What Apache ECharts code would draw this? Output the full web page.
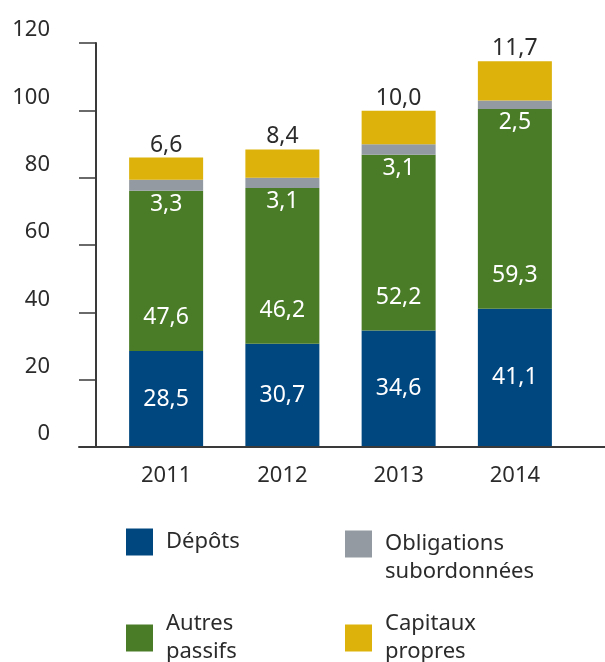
<!DOCTYPE html>
<html>
<head>
<meta charset="utf-8">
<script src="https://cdn.jsdelivr.net/npm/echarts@6/dist/echarts.min.js"></script>
<style>
html,body{margin:0;padding:0;background:#fff;}
#chart{width:605px;height:662px;}
</style>
</head>
<body>
<div id="chart"></div>
<script>
const years = ['2011', '2012', '2013', '2014'];
const depots = [28.5, 30.7, 34.6, 41.1];
const autresPassifs = [47.6, 46.2, 52.2, 59.3];
const obligations = [3.3, 3.1, 3.1, 2.5];
const capitaux = [6.6, 8.4, 10.0, 11.7];
const seriesNames = ['Dépôts', 'Autres\npassifs', 'Obligations\nsubordonnées', 'Capitaux\npropres'];
const yMin = 0, yMax = 120, yStep = 20;

const FONT = 'Noto Sans';
const TXT = '#2b2b2b';
const fmt = p => p.value.toFixed(1).replace('.', ',');

const chart = echarts.init(document.getElementById('chart'));
const legendBase = {
  icon: 'rect', itemWidth: 27, itemHeight: 27, selectedMode: false,
  textStyle: { fontFamily: FONT, fontSize: 22, color: TXT, lineHeight: 28 }
};
function legend(name, left, top, pad, formatter) {
  const l = Object.assign({}, legendBase, {
    data: [name], left: left, top: top,
    textStyle: Object.assign({}, legendBase.textStyle, { padding: pad })
  });
  if (formatter) l.formatter = formatter;
  return l;
}
chart.setOption({
  animation: false,
  textStyle: { fontFamily: FONT },
  grid: [
    { left: 108, right: 32, top: 43, bottom: 215 },
    { left: 79, right: 0, top: 43, bottom: 215 }
  ],
  legend: [
    legend(seriesNames[0], 121, 523, [0, 0, 0, 8]),
    legend(seriesNames[2], 340, 497, [0, 0, 0, 8], n => '\n' + n),
    legend(seriesNames[1], 121, 605, [0, 0, 0, 8]),
    legend(seriesNames[3], 340, 605, [0, 0, 0, 8])
  ],
  xAxis: [
    {
      type: 'category', data: years, gridIndex: 0,
      axisLine: { show: false }, axisTick: { show: false },
      axisLabel: { fontSize: 22, color: TXT, margin: 18, fontFamily: FONT }
    },
    {
      type: 'value', gridIndex: 1, min: 0, max: 1, z: 10,
      axisLine: { show: true, lineStyle: { color: '#3a3a3a', width: 2 } },
      axisTick: { show: false }, axisLabel: { show: false }, splitLine: { show: false }
    }
  ],
  yAxis: [
    {
      type: 'value', gridIndex: 0, min: yMin, max: yMax, interval: yStep, offset: 12, z: 10,
      axisLine: { show: true, lineStyle: { color: '#3a3a3a', width: 2 } },
      axisTick: { show: true, length: 17, lineStyle: { color: '#3a3a3a', width: 1.5 } },
      splitLine: { show: false },
      axisLabel: { fontSize: 22, color: TXT, margin: 46, verticalAlign: 'bottom', fontFamily: FONT, padding: [0, 0, 2, 0] }
    },
    {
      type: 'value', gridIndex: 1, min: yMin, max: yMax, show: false
    }
  ],
  series: [
    {
      name: seriesNames[0], type: 'bar', stack: 'a', data: depots, barWidth: 74,
      itemStyle: { color: '#00467f' },
      label: { show: true, position: 'inside', color: '#fff', fontSize: 23, formatter: fmt }
    },
    {
      name: seriesNames[1], type: 'bar', stack: 'a', data: autresPassifs,
      itemStyle: { color: '#4a7c27' },
      label: { show: true, position: 'insideBottom', distance: 22, color: '#fff', fontSize: 23, formatter: fmt }
    },
    {
      name: seriesNames[2], type: 'bar', stack: 'a', data: obligations,
      itemStyle: { color: '#939aa1' },
      label: { show: true, position: 'bottom', distance: 2, color: '#fff', fontSize: 23, formatter: fmt }
    },
    {
      name: seriesNames[3], type: 'bar', stack: 'a', data: capitaux,
      itemStyle: { color: '#dcb20b' },
      label: { show: true, position: 'top', distance: 1, color: TXT, fontSize: 23, formatter: fmt }
    }
  ]
});
</script>
</body>
</html>
